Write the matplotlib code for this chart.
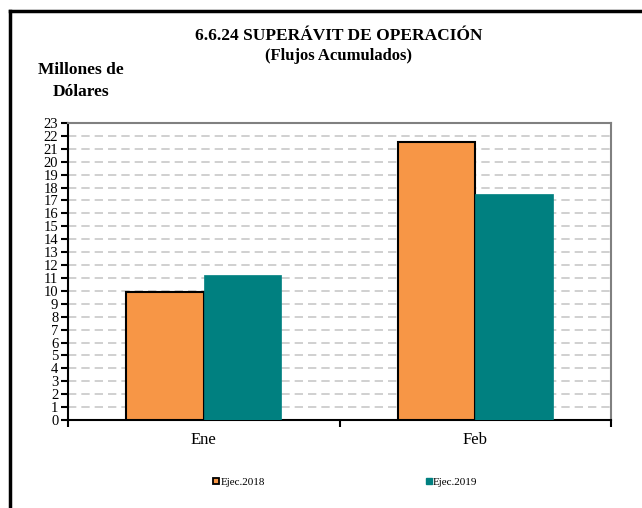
import numpy as np
import matplotlib.pyplot as plt
from matplotlib.lines import Line2D

plt.rcParams['font.family'] = ['Liberation Serif', 'DejaVu Serif']

# datos
meses = ['Ene', 'Feb']
ejec_2018 = [9.9, 21.5]
ejec_2019 = [11.2, 17.5]
series = ['Ejec.2018', 'Ejec.2019']

naranja = '#F79646'
verde = '#008080'

fig = plt.figure(figsize=(6.42, 5.08), dpi=100)
ax = fig.add_axes([68 / 642, 1 - 420 / 508, 543 / 642, 297 / 508])

x = np.arange(len(meses))
w = 0.285
ax.bar(x - w / 2, ejec_2018, w, color=naranja, edgecolor='black', linewidth=1.5, zorder=3)
ax.bar(x + w / 2, ejec_2019, w, color=verde, edgecolor=verde, linewidth=0.5, zorder=3)

ax.set_xlim(-0.5, 1.5)
ax.set_ylim(0, 23)
ax.set_yticks(range(0, 24))
ax.set_yticklabels([str(i) for i in range(0, 24)], fontsize=10.5)
ax.yaxis.grid(True, linestyle=(0, (5, 3)), color='#C8C8C8', linewidth=1.2, zorder=0)

ax.set_xticks(x)
ax.set_xticklabels(meses, fontsize=12)
ax.tick_params(axis='x', which='major', length=0, pad=9)
ax.set_xticks([-0.5, 0.5, 1.5], minor=True)
ax.tick_params(axis='x', which='minor', length=5, width=1.5, direction='out')
ax.tick_params(axis='y', length=5, width=1.5, direction='out', pad=2)

for s in ['top', 'right']:
    ax.spines[s].set_color('#808080')
    ax.spines[s].set_linewidth(1.5)
for s in ['left', 'bottom']:
    ax.spines[s].set_color('black')
    ax.spines[s].set_linewidth(1.5)

fig.text(0.527, 1 - 36 / 508, '6.6.24 SUPERÁVIT DE OPERACIÓN', ha='center', va='center',
         fontsize=12.5, fontweight='bold')
fig.text(0.527, 1 - 56 / 508, '(Flujos Acumulados)', ha='center', va='center',
         fontsize=12, fontweight='bold')
fig.text(81 / 642, 1 - 81 / 508, 'Millones de\nDólares', ha='center', va='center',
         fontsize=12.5, fontweight='bold', linespacing=1.45)

# leyenda
h1 = Line2D([], [], marker='s', linestyle='none', markersize=5,
            markerfacecolor=naranja, markeredgecolor='black', markeredgewidth=1.3)
h2 = Line2D([], [], marker='s', linestyle='none', markersize=5,
            markerfacecolor=verde, markeredgecolor=verde)
fig.legend([h1, h2], series, loc='center', bbox_to_anchor=(0.538, 1 - 482 / 508),
           ncol=2, frameon=False, fontsize=8, handlelength=0.5, handletextpad=0.15,
           columnspacing=14.5)

# marco exterior
fig.add_artist(Line2D([9.5 / 642, 9.5 / 642], [0, 1 - 11 / 508], color='black', linewidth=2.5))
fig.add_artist(Line2D([9.5 / 642, 1], [1 - 11 / 508, 1 - 11 / 508], color='black', linewidth=2.5))

fig.savefig('out.png', dpi=100)
